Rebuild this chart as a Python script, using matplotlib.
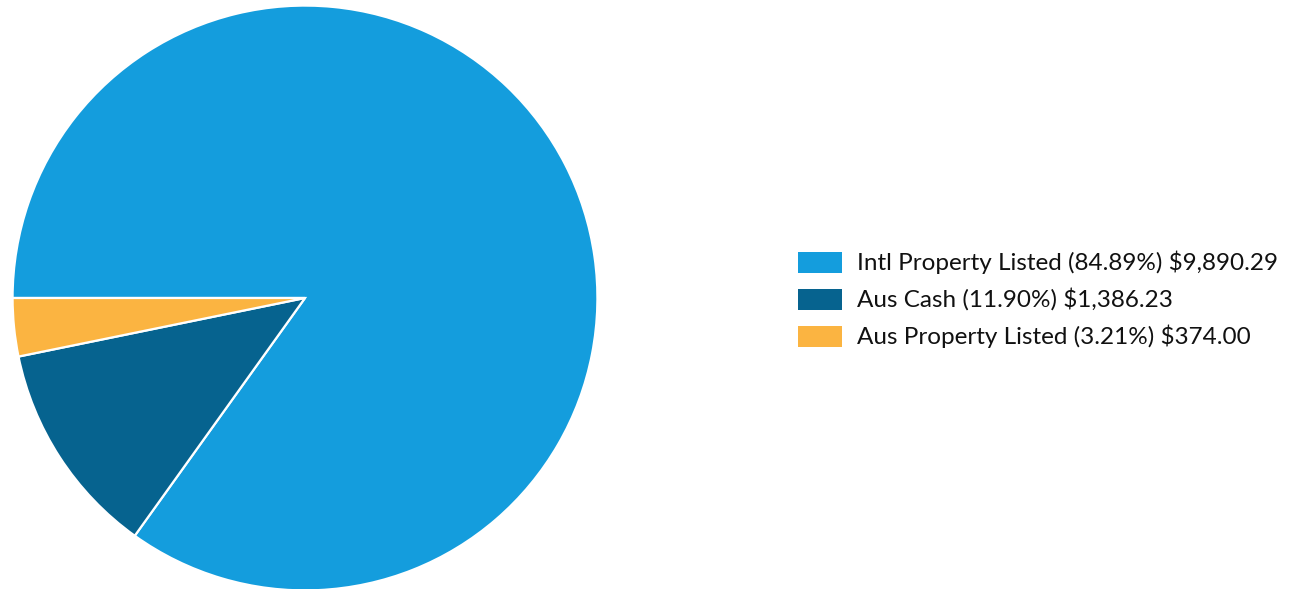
import matplotlib
matplotlib.use("Agg")
import matplotlib.pyplot as plt
from matplotlib.patches import Rectangle

categories = ["Intl Property Listed", "Aus Cash", "Aus Property Listed"]
percents = [84.89, 11.90, 3.21]
amounts = ["$9,890.29", "$1,386.23", "$374.00"]
colors = ["#149DDD", "#06638F", "#FBB441"]

W, H = 1293, 589
fig = plt.figure(figsize=(W / 100, H / 100), dpi=100)
cx, cy, r = 305, 298, 293
ax = fig.add_axes([(cx - r) / W, (H - cy - r) / H, 2 * r / W, 2 * r / H])
ax.pie(percents, colors=colors, startangle=180, counterclock=False,
       radius=1, wedgeprops=dict(edgecolor="white", linewidth=1.6))
ax.set_xlim(-1.002, 1.002)
ax.set_ylim(-1.002, 1.002)
ax.set_aspect("equal")
ax.axis("off")

row_y = [262, 299, 336]
for i, (cat, p, a, c) in enumerate(zip(categories, percents, amounts, colors)):
    y = row_y[i]
    fig.patches.append(Rectangle((798 / W, (H - y - 10.5) / H), 44 / W, 21 / H,
                                 transform=fig.transFigure, facecolor=c, edgecolor="none"))
    fig.text(857 / W, (H - y - 7.5) / H, f"{cat} ({p:.2f}%) {a}", fontsize=17.5,
             family="Lato", color="#111111", va="baseline", ha="left")

fig.savefig("out.png", dpi=100)
